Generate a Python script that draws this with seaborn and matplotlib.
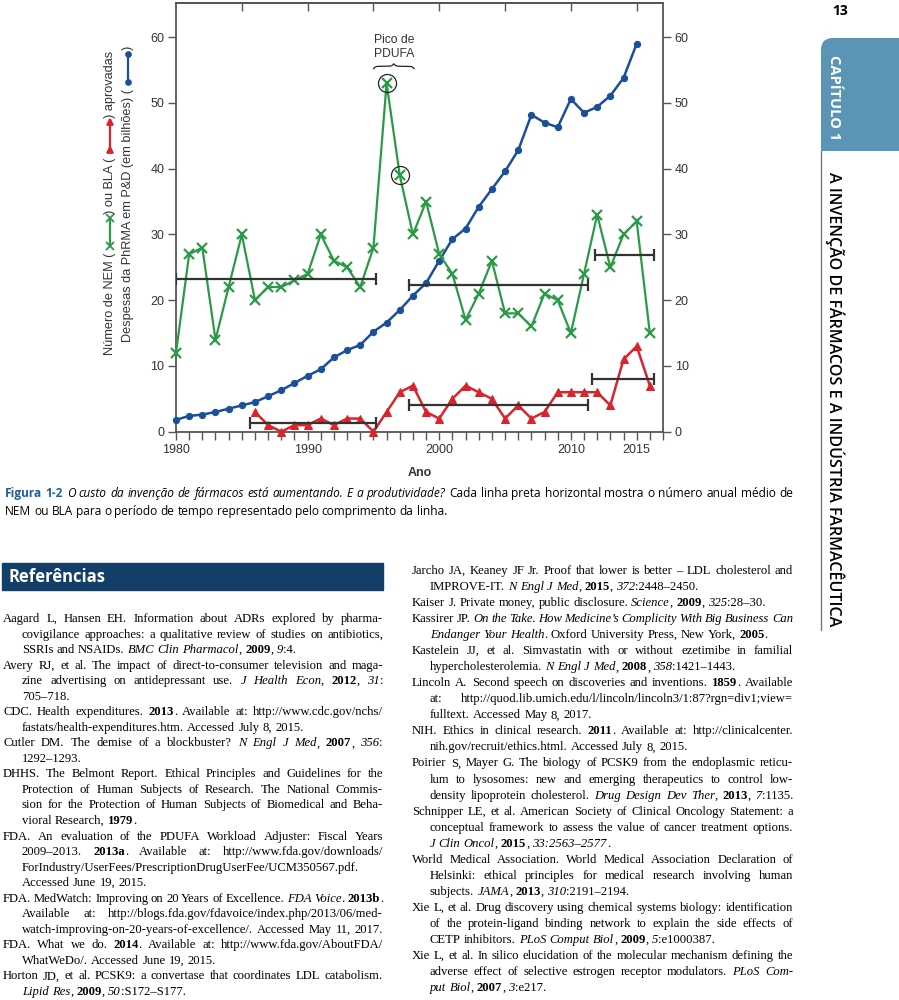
import matplotlib
matplotlib.use("Agg")
import numpy as np
import pandas as pd
import matplotlib.pyplot as plt
import seaborn as sns
from matplotlib.font_manager import FontProperties
from matplotlib.lines import Line2D
from matplotlib.patches import Rectangle, PathPatch
from matplotlib.path import Path
from matplotlib.ticker import FixedLocator, MultipleLocator

# ---- dados ----
nem_years = list(range(1980, 2017))
nem_counts = [12, 27, 28, 14, 22, 30, 20, 22, 22, 23, 24, 30, 26, 25, 22, 28,
              53, 39, 30, 35, 27, 24, 17, 21, 26, 18, 18, 16, 21, 20, 15, 24,
              33, 25, 30, 32, 15]

bla_years = list(range(1986, 2017))
bla_counts = [3, 1, 0, 1, 1, 2, 1, 2, 2, 0, 3, 6, 7, 3, 2, 5, 7, 6, 5, 2,
              4, 2, 3, 6, 6, 6, 6, 4, 11, 13, 7]

rd_years = list(range(1980, 2016))
rd_spend = [1.8, 2.4, 2.6, 3.0, 3.5, 4.0, 4.5, 5.4, 6.3, 7.4, 8.5, 9.5, 11.3,
            12.4, 13.2, 15.2, 16.6, 18.5, 20.7, 22.6, 26.0, 29.3, 30.9, 34.2,
            36.9, 39.6, 42.8, 48.2, 47.0, 46.3, 50.6, 48.5, 49.4, 51.1, 53.8,
            59.0]

# médias por período (linhas pretas horizontais)
nem_avg_start = [1980.0, 1997.7, 2011.8]
nem_avg_end = [1995.2, 2011.3, 2016.3]
nem_avg = [23.2, 22.3, 26.8]
bla_avg_start = [1985.6, 1997.7, 2011.6]
bla_avg_end = [1995.2, 2011.3, 2016.3]
bla_avg = [1.3, 4.1, 8.0]

peak_years = [1996, 1997]
x_major = [1980, 1990, 2000, 2010, 2015]
y_ticks = [0, 10, 20, 30, 40, 50, 60]
top_ticks = [1985, 1990, 1995, 2000, 2005, 2010, 2015]

GREEN = "#2b9a47"
RED = "#d8242d"
BLUE = "#1b4f9c"
DARK = "#333333"
SPINE = "#555555"
NAVY = "#123e68"
TAB = "#5b95b5"
CAPBLUE = "#1d5e9c"
SERIF = ["Liberation Serif", "DejaVu Serif"]
SANS = ["Open Sans", "DejaVu Sans"]

W, H = 899, 1000

sns.set_style("ticks")
plt.rcParams["font.family"] = ["Liberation Sans", "DejaVu Sans"]

fig = plt.figure(figsize=(W / 100, H / 100), dpi=100)
renderer = fig.canvas.get_renderer()


def fx(x):
    return x / W


def fy(y):
    return 1 - y / H


# ---- gráfico ----
ax = fig.add_axes([fx(176), fy(431.7), (663 - 176) / W, (431.7 - 3) / H])

nem_df = pd.DataFrame({"ano": nem_years, "valor": nem_counts})
bla_df = pd.DataFrame({"ano": bla_years, "valor": bla_counts})
rd_df = pd.DataFrame({"ano": rd_years, "valor": rd_spend})

sns.lineplot(data=rd_df, x="ano", y="valor", ax=ax, color=BLUE, lw=1.8,
             marker="o", markersize=4.5, markeredgecolor=BLUE,
             markerfacecolor=BLUE, estimator=None, zorder=3, clip_on=False)
sns.lineplot(data=nem_df, x="ano", y="valor", ax=ax, color=GREEN, lw=1.6,
             marker="x", markersize=7, markeredgewidth=1.6,
             markeredgecolor=GREEN, estimator=None, zorder=4, clip_on=False)
sns.lineplot(data=bla_df, x="ano", y="valor", ax=ax, color=RED, lw=1.8,
             marker="^", markersize=6, markeredgecolor=RED,
             markerfacecolor=RED, estimator=None, zorder=4, clip_on=False)

for starts, ends, vals in [(nem_avg_start, nem_avg_end, nem_avg),
                           (bla_avg_start, bla_avg_end, bla_avg)]:
    s, e = np.array(starts), np.array(ends)
    ax.errorbar((s + e) / 2, vals, xerr=(e - s) / 2, fmt="none", ecolor=DARK,
                elinewidth=1.6, capsize=4, capthick=1.6, zorder=5)

peak_vals = [nem_counts[nem_years.index(y)] for y in peak_years]
ax.plot(peak_years, peak_vals, "o", mfc="none", mec="#222222", ms=13,
        mew=0.9, zorder=6)

# chave "Pico de PDUFA"
bx0, bx1, by = 1995.0, 1998.1, 55.2
xb = np.linspace(bx0, bx1, 201)
half = xb[:101]
yh = 1 / (1 + np.exp(-12 * (half - half[0]))) + 1 / (1 + np.exp(-12 * (half - half[-1])))
yb = np.concatenate([yh, yh[-2::-1]])
ax.plot(xb, by + (yb - 0.5) * 0.75, color="#222222", lw=0.9, clip_on=False)
ax.text(1996.55, 56.5, "Pico de\nPDUFA", ha="center", va="bottom",
        fontsize=8.7, color=DARK, linespacing=1.3)

ax.set_xlim(1980, 2017)
ax.set_ylim(0, 65.2)
ax.set_xlabel("Ano", fontsize=9, fontweight="bold", color=DARK, labelpad=8)
ax.set_ylabel("")
ax.xaxis.set_major_locator(FixedLocator(x_major))
ax.xaxis.set_minor_locator(MultipleLocator(1))
ax.set_yticks(y_ticks)
ax.tick_params(axis="x", which="both", direction="out", length=5.5, width=1,
               color=SPINE, labelsize=9, labelcolor=DARK, pad=3)
ax.tick_params(axis="y", direction="out", length=5.5, width=1, color=SPINE,
               left=True, right=True, labelleft=True, labelright=True,
               labelsize=9, labelcolor=DARK, pad=3)
for sp in ax.spines.values():
    sp.set_color(SPINE)
    sp.set_linewidth(1.3)
    sp.set_visible(True)

top = ax.secondary_xaxis("top")
top.set_xticks(top_ticks)
top.tick_params(axis="x", direction="in", length=5.5, width=1, color=SPINE,
                labeltop=False)
top.spines["top"].set_color(SPINE)
top.spines["top"].set_linewidth(1.3)


# ---- rótulo do eixo y com ícones ----
def ylabel_line(x, y_start, items, size=9.2):
    y = H - y_start
    for it in items:
        if isinstance(it, str):
            t = fig.text(fx(x), y / H, it, rotation=90, rotation_mode="anchor",
                         ha="left", va="center", fontsize=size, color=DARK)
            y += t.get_window_extent(renderer).height
        else:
            color, marker, ms = it
            y0, y1 = y + 7, y + 35
            fig.add_artist(Line2D([fx(x), fx(x)], [y0 / H, y1 / H], color=color,
                                  marker=marker, ms=ms, mew=1.3, lw=1.6,
                                  mec=color, mfc=color,
                                  transform=fig.transFigure))
            y = y1 + 4


ylabel_line(110, 355, ["Número de NEM (", (GREEN, "x", 6), ") ou BLA (",
                       (RED, "^", 5), ") aprovadas"])
ylabel_line(128, 342, ["Despesas da PhRMA em P&D (em bilhões) (",
                       (BLUE, "o", 3.5), ")"])


# ---- texto corrido (justificado) ----
def parse_words(line):
    words, cur, buf = [], [], ""
    ital = bold = False
    for ch in line:
        if ch in "|*":
            if buf:
                cur.append((buf, ital, bold))
                buf = ""
            if ch == "|":
                ital = not ital
            else:
                bold = not bold
        elif ch == " ":
            if buf:
                cur.append((buf, ital, bold))
                buf = ""
            if cur:
                words.append(cur)
                cur = []
        else:
            buf += ch
    if buf:
        cur.append((buf, ital, bold))
    if cur:
        words.append(cur)
    return words


def advance(txt, prop):
    # avanço do trecho: "H" dos dois lados anula as margens dos glifos
    w1 = renderer.get_text_width_height_descent("H" + txt + "H", prop, ismath=False)[0]
    w0 = renderer.get_text_width_height_descent("HH", prop, ismath=False)[0]
    return w1 - w0


def rich_line(x0, y_base, line, width, size, family, justify,
              bold_color="black", color="black"):
    placed = []
    for word in parse_words(line):
        pieces = []
        for txt, it, bd in word:
            prop = FontProperties(family=family, size=size,
                                  style="italic" if it else "normal",
                                  weight="bold" if bd else "normal")
            pieces.append((txt, prop, bold_color if bd else color,
                           advance(txt, prop)))
        placed.append(pieces)
    total = sum(p[3] for pieces in placed for p in pieces)
    gap = size * 100 / 72 * 0.25
    if justify and len(placed) > 1:
        gap = max((width - total) / (len(placed) - 1), 1.5)
    x = x0
    for pieces in placed:
        for txt, prop, col, w in pieces:
            fig.text(fx(x), fy(y_base), txt, fontproperties=prop, color=col,
                     va="baseline")
            x += w
        x += gap


# legenda da figura
rich_line(5, 497, "*Figura 1-2* |O custo da invenção de fármacos está aumentando. "
          "E a produtividade?| Cada linha preta horizontal mostra o número "
          "anual médio de", 788, 8.6, SANS, True, bold_color=CAPBLUE)
rich_line(5, 515, "NEM ou BLA para o período de tempo representado pelo "
          "comprimento da linha.", 788, 8.6, SANS, False)

# faixa "Referências"
fig.add_artist(Rectangle((fx(2), fy(590)), (383 - 2) / W, 27 / H, color=NAVY,
                         transform=fig.transFigure))
fig.text(fx(8), fy(577), "Referências", family=SANS, fontsize=12,
         weight="bold", color="white", va="center")

left_refs = [
    ["Aagard L, Hansen EH. Information about ADRs explored by pharma-",
     "covigilance approaches: a qualitative review of studies on antibiotics,",
     "SSRIs and NSAIDs. |BMC Clin Pharmacol|, *2009*, |9|:4."],
    ["Avery RJ, et al. The impact of direct-to-consumer television and maga-",
     "zine advertising on antidepressant use. |J Health Econ|, *2012*, |31|:",
     "705–718."],
    ["CDC. Health expenditures. *2013*. Available at: http://www.cdc.gov/nchs/",
     "fastats/health-expenditures.htm. Accessed July 8, 2015."],
    ["Cutler DM. The demise of a blockbuster? |N Engl J Med|, *2007*, |356|:",
     "1292–1293."],
    ["DHHS. The Belmont Report. Ethical Principles and Guidelines for the",
     "Protection of Human Subjects of Research. The National Commis-",
     "sion for the Protection of Human Subjects of Biomedical and Beha-",
     "vioral Research, *1979*."],
    ["FDA. An evaluation of the PDUFA Workload Adjuster: Fiscal Years",
     "2009–2013. *2013a*. Available at: http://www.fda.gov/downloads/",
     "ForIndustry/UserFees/PrescriptionDrugUserFee/UCM350567.pdf.",
     "Accessed June 19, 2015."],
    ["FDA. MedWatch: Improving on 20 Years of Excellence. |FDA Voice|. *2013b*.",
     "Available at: http://blogs.fda.gov/fdavoice/index.php/2013/06/med-",
     "~watch-improving-on-20-years-of-excellence/. Accessed May 11, 2017."],
    ["FDA. What we do. *2014*. Available at: http://www.fda.gov/AboutFDA/",
     "WhatWeDo/. Accessed June 19, 2015."],
    ["Horton JD, et al. PCSK9: a convertase that coordinates LDL catabolism.",
     "|Lipid Res|, *2009*, |50|:S172–S177."],
]

right_refs = [
    ["Jarcho JA, Keaney JF Jr. Proof that lower is better – LDL cholesterol and",
     "IMPROVE-IT. |N Engl J Med|, *2015*, |372|:2448–2450."],
    ["Kaiser J. Private money, public disclosure. |Science|, *2009*, |325|:28–30."],
    ["Kassirer JP. |On the Take. How Medicine’s Complicity With Big Business Can|",
     "|Endanger Your Health|. Oxford University Press, New York, *2005*."],
    ["Kastelein JJ, et al. Simvastatin with or without ezetimibe in familial",
     "hypercholesterolemia. |N Engl J Med|, *2008*, |358|:1421–1443."],
    ["Lincoln A. Second speech on discoveries and inventions. *1859*. Available",
     "at: http://quod.lib.umich.edu/l/lincoln/lincoln3/1:87?rgn=div1;view=",
     "fulltext. Accessed May 8, 2017."],
    ["NIH. Ethics in clinical research. *2011*. Available at: http://clinicalcenter.",
     "nih.gov/recruit/ethics.html. Accessed July 8, 2015."],
    ["Poirier S, Mayer G. The biology of PCSK9 from the endoplasmic reticu-",
     "lum to lysosomes: new and emerging therapeutics to control low-",
     "~density lipoprotein cholesterol. |Drug Design Dev Ther|, *2013*, |7|:1135."],
    ["Schnipper LE, et al. American Society of Clinical Oncology Statement: a",
     "conceptual framework to assess the value of cancer treatment options.",
     "|J Clin Oncol|, *2015*, |33:2563–2577|."],
    ["World Medical Association. World Medical Association Declaration of",
     "Helsinki: ethical principles for medical research involving human",
     "subjects. |JAMA|, *2013*, |310|:2191–2194."],
    ["Xie L, et al. Drug discovery using chemical systems biology: identification",
     "of the protein-ligand binding network to explain the side effects of",
     "CETP inhibitors. |PLoS Comput Biol|, *2009*, |5|:e1000387."],
    ["Xie L, et al. In silico elucidation of the molecular mechanism defining the",
     "adverse effect of selective estrogen receptor modulators. |PLoS Com-|",
     "|put Biol|, *2007*, |3|:e217."],
]


def draw_refs(refs, x0, right, indent, y0, step, size=9.1):
    i = 0
    for ref in refs:
        for j, line in enumerate(ref):
            force = line.startswith("~")
            line = line.lstrip("~")
            xs = x0 if j == 0 else x0 + indent
            last = j == len(ref) - 1
            rich_line(xs, y0 + i * step + 3, line, right - xs, size, SERIF,
                      force or not last)
            i += 1


draw_refs(left_refs, 3, 383, 19, 619, 15.54)
draw_refs(right_refs, 412, 793, 18, 571, 16.04)

# ---- barra lateral ----
fig.text(fx(840), fy(11), "13", family=SANS, fontsize=10, weight="bold",
         color="black", ha="center", va="center")
r = 12
verts = [(821, 151), (821, 38 + r), (821, 38), (821 + r, 38), (899, 38),
         (899, 151), (821, 151)]
codes = [Path.MOVETO, Path.LINETO, Path.CURVE3, Path.CURVE3, Path.LINETO,
         Path.LINETO, Path.CLOSEPOLY]
tab = Path([(fx(a), fy(b)) for a, b in verts], codes)
fig.add_artist(PathPatch(tab, facecolor=TAB, edgecolor="none",
                         transform=fig.transFigure))
fig.text(fx(834), fy(98), "CAPÍTULO 1", family=SANS, fontsize=10.5,
         weight="bold", color="white", rotation=-90, ha="center", va="center")
fig.add_artist(Line2D([fx(821), fx(821)], [fy(151), fy(630)], color="#777777",
                      lw=1, transform=fig.transFigure))
fig.text(fx(835), fy(399), "A INVENÇÃO DE FÁRMACOS E A INDÚSTRIA FARMACÊUTICA",
         family=SANS, fontsize=11.6, weight="semibold", color="black",
         rotation=-90, ha="center", va="center")

fig.savefig("out.png", dpi=100)
